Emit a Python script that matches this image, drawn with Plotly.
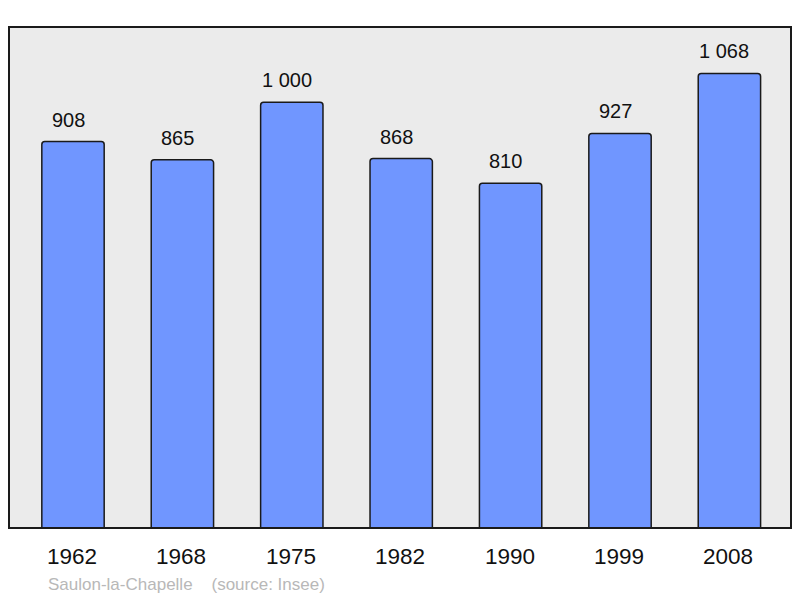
import plotly.graph_objects as go

years = ["1962", "1968", "1975", "1982", "1990", "1999", "2008"]
population = [908, 865, 1000, 868, 810, 927, 1068]
value_labels = ["908", "865", "1 000", "868", "810", "927", "1 068"]

xpos = list(range(len(years)))
FONT = "Liberation Sans, Arial"

fig = go.Figure()
fig.add_trace(go.Bar(
    x=xpos, y=population, width=0.57,
    marker=dict(color="#7096ff", line=dict(color="#1a1a1a", width=1.5), cornerradius=3),
    hoverinfo="skip",
))

annotations = []
for xi, v, lab in zip(xpos, population, value_labels):
    annotations.append(dict(x=xi, y=v, text=lab, showarrow=False, yshift=22, xshift=-5, yanchor="middle",
                            font=dict(size=20, color="#111111", family=FONT)))
for xi, yr in zip(xpos, years):
    annotations.append(dict(x=xi, y=0, text=yr, showarrow=False, yshift=-28, xshift=-1, yanchor="middle",
                            font=dict(size=22.5, color="#111111", family=FONT)))
annotations.append(dict(xref="paper", yref="paper", x=(46 - 9) / 782, y=(528 - 584) / 501,
                        xanchor="left", yanchor="middle", showarrow=False,
                        text="Saulon-la-Chapelle&nbsp;&nbsp;&nbsp;&nbsp;(source: Insee)",
                        font=dict(size=17, color="#b8b8b8", family=FONT)))

fig.update_layout(
    width=792, height=590,
    margin=dict(l=1, r=9, t=19, b=70),
    paper_bgcolor="white", plot_bgcolor="#ebebeb",
    showlegend=False,
    annotations=annotations,
    xaxis=dict(range=[-0.585, 6.563], showticklabels=False, showgrid=False, zeroline=False, fixedrange=True),
    yaxis=dict(range=[0, 1177], showticklabels=False, showgrid=False, zeroline=False, fixedrange=True),
    shapes=[dict(type="rect", xref="paper", yref="paper", x0=0, y0=0, x1=1, y1=1,
                 line=dict(color="#1a1a1a", width=2), layer="above")],
)

fig.write_html("out.html")
